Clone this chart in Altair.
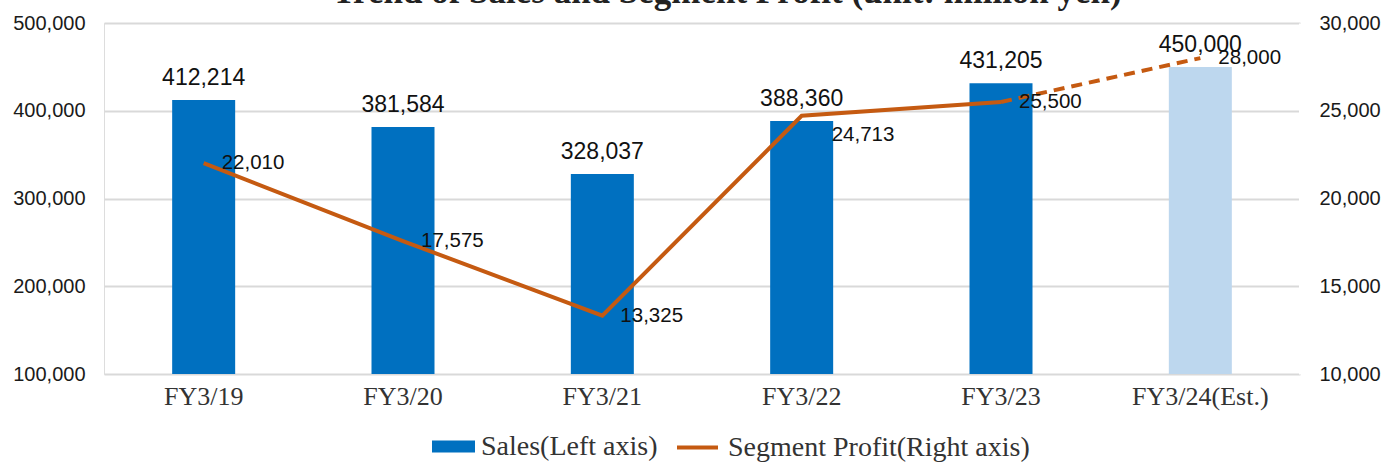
import altair as alt
import pandas as pd

# ---- data ----
categories = ["FY3/19", "FY3/20", "FY3/21", "FY3/22", "FY3/23", "FY3/24(Est.)"]
sales = [412214, 381584, 328037, 388360, 431205, 450000]
profit = [22010, 17575, 13325, 24713, 25500, 28000]
estimate = [False, False, False, False, False, True]
title_text = "Trend of Sales and Segment Profit (unit: million yen)"
sales_name = "Sales(Left axis)"
profit_name = "Segment Profit(Right axis)"
left_ticks = [100000, 200000, 300000, 400000, 500000]
right_ticks = [10000, 15000, 20000, 25000, 30000]

df = pd.DataFrame({
    "cat": categories,
    "sales": sales,
    "profit": profit,
    "est": estimate,
    "s_series": [sales_name] * len(categories),
    "p_series": [profit_name] * len(categories),
})
df["sales_lbl"] = df["sales"].map(lambda v: f"{v:,}")
df["profit_lbl"] = df["profit"].map(lambda v: f"{v:,}")
df["idx"] = range(len(df))

W, H = 1196, 351
BLUE = "#0070C0"
LIGHT = "#BDD7EE"
ORANGE = "#C55A11"
SANS = "Liberation Sans"
SERIF = "Liberation Serif"

x = alt.X("cat:N", sort=categories,
          scale=alt.Scale(paddingInner=0, paddingOuter=0),
          axis=alt.Axis(title=None, labelFont=SERIF, labelFontSize=26,
                        labelColor="#333333", ticks=False, domain=False,
                        labelPadding=9, labelAngle=0, grid=False))

ys = alt.Y("sales:Q", scale=alt.Scale(domain=[100000, 500000], zero=False, nice=False),
           axis=alt.Axis(title=None, values=left_ticks, format=",d", labelFont=SANS,
                         labelFontSize=20, labelColor="#1a1a1a", ticks=False,
                         domain=False, labelPadding=19, gridColor="#D9D9D9",
                         gridWidth=2))

base = alt.Chart(df)

bars = base.mark_bar(size=63).encode(
    x=x,
    y=ys,
    y2=alt.datum(left_ticks[0]),
    color=alt.condition(
        alt.datum.est,
        alt.value(LIGHT),
        alt.Color("s_series:N", scale=alt.Scale(domain=[sales_name], range=[BLUE]),
                  legend=alt.Legend(title=None, orient="none", legendX=328, legendY=402,
                                    symbolType="M-1,-0.28H1V0.28H-1Z", symbolSize=1849,
                                    symbolStrokeWidth=0, labelFont=SERIF, labelFontSize=28,
                                    labelColor="#333333", labelOffset=6, padding=0,
                                    labelLimit=500)),
    ),
)

bar_text = base.mark_text(dy=-15, baseline="alphabetic", font=SANS, fontSize=23,
                          color="#111111").encode(x=x, y=ys, text="sales_lbl:N")

title = alt.Chart(pd.DataFrame({"t": [title_text]})).mark_text(
    font=SERIF, fontSize=35, fontWeight="bold", color="#222222", baseline="alphabetic",
    align="center").encode(x=alt.value(623), y=alt.value(-20.5), text="t:N")

left = alt.layer(bars, bar_text, title)

yp = alt.Y("profit:Q", scale=alt.Scale(domain=[10000, 30000], zero=False, nice=False),
           axis=alt.Axis(title=None, orient="right", values=right_ticks, format=",d",
                         labelFont=SANS, labelFontSize=20, labelColor="#1a1a1a",
                         ticks=False, domain=True, domainColor="#ffffff", domainWidth=3,
                         labelPadding=19, grid=False))

stroke_enc = alt.Stroke("p_series:N", scale=alt.Scale(domain=[profit_name], range=[ORANGE]),
                        legend=alt.Legend(title=None, orient="none", legendX=571, legendY=402,
                                          symbolType="stroke", symbolSize=1681,
                                          symbolStrokeWidth=4, labelFont=SERIF,
                                          labelFontSize=28, labelColor="#333333",
                                          labelOffset=8, padding=0, labelLimit=500))

line_solid = base.transform_filter(alt.datum.idx <= 4).mark_line(strokeWidth=4).encode(
    x=x, y=yp, stroke=stroke_enc)
line_dash = base.transform_filter(alt.datum.idx >= 4).mark_line(
    strokeWidth=4, strokeDash=[11, 7]).encode(
    x=x, y=yp, stroke=alt.Stroke("p_series:N", legend=None))

ptext = base.transform_filter(alt.datum.cat != "FY3/22").mark_text(
    align="left", baseline="middle", dx=18, font=SANS, fontSize=20.5, color="#111111"
).encode(x=x, y=yp, text="profit_lbl:N")
ptext_off = base.transform_filter(alt.datum.cat == "FY3/22").mark_text(
    align="left", baseline="middle", dx=30, dy=19, font=SANS, fontSize=20.5, color="#111111"
).encode(x=x, y=yp, text="profit_lbl:N")

right = alt.layer(line_solid, line_dash, ptext, ptext_off)

chart = alt.layer(left, right).resolve_scale(y="independent", color="independent",
                                             stroke="independent").properties(
    width=W, height=H,
    autosize=alt.AutoSizeParams(type="none"),
    padding={"left": 104, "top": 23, "right": 85, "bottom": 89},
).configure_view(strokeWidth=0, stroke="transparent").configure_axis(
    ticks=False
).configure(background="white")

chart.save("out.html", embed_options={"renderer": "svg", "actions": False})
